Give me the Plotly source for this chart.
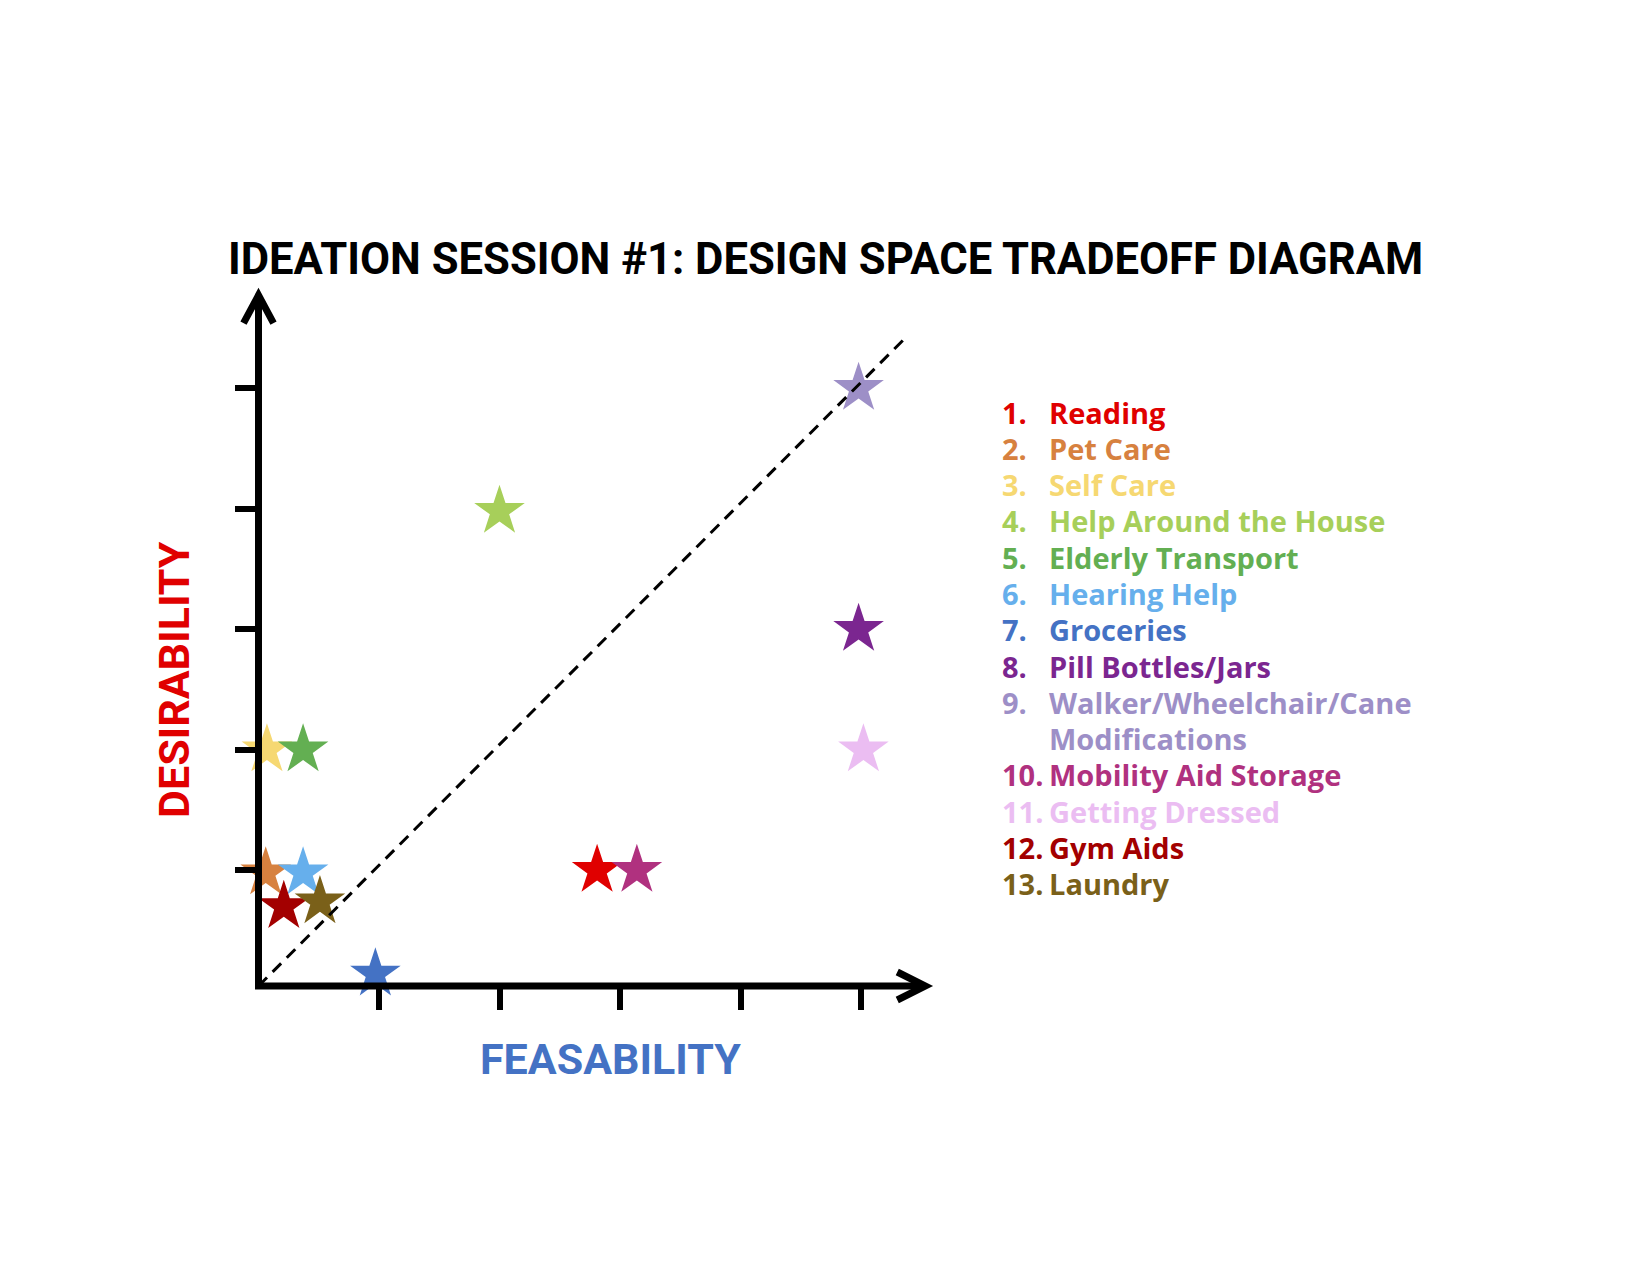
import plotly.graph_objects as go

# ---------------- data ----------------
ideas = ["Reading", "Pet Care", "Self Care", "Help Around the House", "Elderly Transport",
         "Hearing Help", "Groceries", "Pill Bottles/Jars",
         "Walker/Wheelchair/Cane<br>Modifications", "Mobility Aid Storage",
         "Getting Dressed", "Gym Aids", "Laundry"]
feasibility = [2.81, 0.06, 0.07, 2.00, 0.37, 0.37, 0.97, 4.98, 4.98, 3.14, 5.02, 0.21, 0.51]
desirability = [1.00, 0.98, 2.00, 3.98, 2.00, 0.98, 0.14, 3.00, 5.00, 1.00, 2.00, 0.70, 0.74]
colors = ["#E00000", "#D7813F", "#F6D872", "#A7CF5A", "#63AF52", "#66AFEC", "#4472C4",
          "#7B2690", "#9D8FC7", "#B0317F", "#EBBDF2", "#A30000", "#7A6019"]
tick_values = [1, 2, 3, 4, 5]
diag_x = [0, 5.38]
diag_y = [0.04, 5.43]

title = "IDEATION SESSION #1: DESIGN SPACE TRADEOFF DIAGRAM"
x_label = "FEASABILITY"
y_label = "DESIRABILITY"

# ---------------- layout geometry (pixels) ----------------
W, H = 1650, 1275
X0, Y0, U = 258.5, 986.0, 120.5   # axis corner pixel and pixels per unit
XMIN, XMAX = 0.0, 5.55
YMIN, YMAX = 0.04, 5.79


def px(x):
    return x / W


def py(y):
    return 1 - y / H


fig = go.Figure()

fig.add_trace(go.Scatter(
    x=feasibility, y=desirability, mode="markers",
    marker=dict(symbol="star", size=38, color=colors, line=dict(width=0)),
    cliponaxis=False, hoverinfo="text",
    text=[t.replace("<br>", " ") for t in ideas], showlegend=False))

fig.add_trace(go.Scatter(
    x=diag_x, y=diag_y, mode="lines",
    line=dict(color="black", width=3, dash="12px,8px"),
    cliponaxis=False, hoverinfo="skip", showlegend=False))

axis_common = dict(showgrid=False, zeroline=False, showline=False, ticks="outside",
                   tickvals=tick_values, ticklen=23, tickwidth=6, tickcolor="black",
                   showticklabels=False, fixedrange=True)

x_end = X0 + (XMAX - XMIN) * U
y_end = Y0 - (YMAX - YMIN) * U

fig.update_layout(
    width=W, height=H, margin=dict(l=0, r=0, t=0, b=0),
    paper_bgcolor="white", plot_bgcolor="white",
    xaxis=dict(range=[XMIN, XMAX], domain=[px(X0), px(x_end)], **axis_common),
    yaxis=dict(range=[YMIN, YMAX], domain=[py(Y0), py(y_end)], **axis_common),
)

# axis lines + arrowheads
tip_x, tip_y = x_end, y_end
fig.add_shape(type="path", xref="paper", yref="paper",
              path=f"M {px(X0)},{py(tip_y + 4)} L {px(X0)},{py(Y0)} L {px(tip_x - 4)},{py(Y0)}",
              line=dict(color="black", width=7))
fig.add_shape(type="path", xref="paper", yref="paper",
              path=f"M {px(X0 - 15)},{py(tip_y + 30)} L {px(X0)},{py(tip_y + 2)} L {px(X0 + 15)},{py(tip_y + 30)}",
              line=dict(color="black", width=7))
fig.add_shape(type="path", xref="paper", yref="paper",
              path=f"M {px(tip_x - 30)},{py(Y0 - 14)} L {px(tip_x - 2)},{py(Y0)} L {px(tip_x - 30)},{py(Y0 + 14)}",
              line=dict(color="black", width=7))

# title and axis labels
fig.add_annotation(x=px(825), y=py(260), xref="paper", yref="paper", text=title,
                   showarrow=False, xanchor="center", yanchor="middle",
                   font=dict(family="Roboto", size=43.6, color="black", weight=700))
fig.add_annotation(x=px(610), y=py(1059), xref="paper", yref="paper", text=x_label,
                   showarrow=False, xanchor="center", yanchor="middle",
                   font=dict(family="Roboto", size=43, color="#4472C4", weight=700))
fig.add_annotation(x=px(174), y=py(680), xref="paper", yref="paper", text=y_label,
                   showarrow=False, xanchor="center", yanchor="middle", textangle=-90,
                   font=dict(family="Roboto", size=43, color="#E00000", weight=700))

# numbered list (legend)
LEG_NUM_X, LEG_TXT_X, LEG_Y0, LEG_DY = 1000, 1047, 412, 36.3
row = 0
for i, (name, col) in enumerate(zip(ideas, colors)):
    parts = name.split("<br>")
    fnt = dict(family="Open Sans", size=29, color=col, weight=700)
    fig.add_annotation(x=px(LEG_NUM_X), y=py(LEG_Y0 + row * LEG_DY), xref="paper", yref="paper",
                       text=f"{i + 1}.", showarrow=False, xanchor="left", yanchor="middle", font=fnt)
    for p in parts:
        fig.add_annotation(x=px(LEG_TXT_X), y=py(LEG_Y0 + row * LEG_DY), xref="paper", yref="paper",
                           text=p, showarrow=False, xanchor="left", yanchor="middle", font=fnt)
        row += 1

fig.write_html("out.html")
